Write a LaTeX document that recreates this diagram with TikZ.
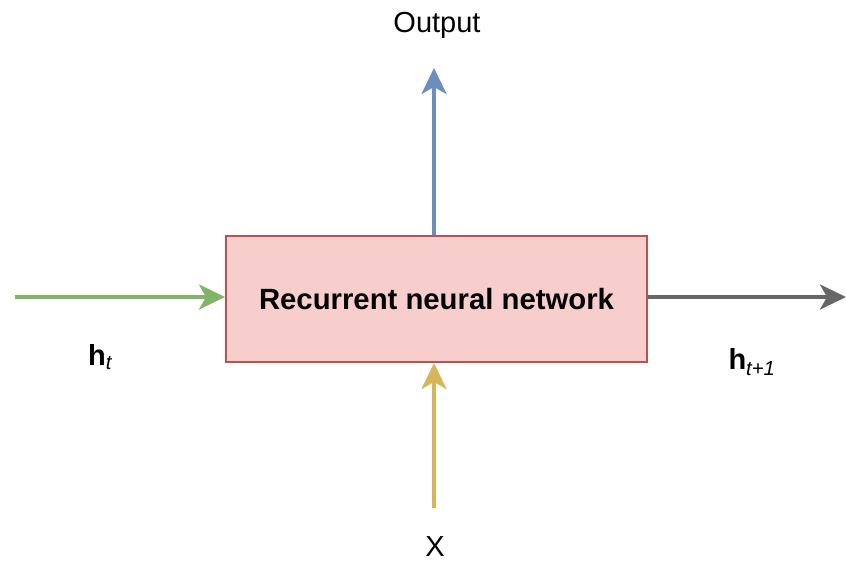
\documentclass[tikz,border=0pt]{standalone}
\usepackage{fontspec}
\setmainfont{Liberation Sans}
\usetikzlibrary{arrows.meta}
\definecolor{boxfill}{HTML}{F8CECC}
\definecolor{boxdraw}{HTML}{B85450}
\definecolor{cblue}{HTML}{6C8EBF}
\definecolor{cgreen}{HTML}{82B366}
\definecolor{cyellow}{HTML}{D6B656}
\definecolor{cgray}{HTML}{666666}
\tikzset{
  conn/.style={line width=3.5pt,-{Stealth[length=26pt,width=25pt,inset=7pt]}},
  lbl/.style={font=\fontsize{29}{33}\selectfont, inner sep=0pt},
}
\begin{document}
\begin{tikzpicture}[x=1pt,y=-1pt]
\useasboundingbox (0,0) rectangle (846,563);
\node[draw=boxdraw, fill=boxfill, line width=2pt, minimum width=421pt, minimum height=126pt, anchor=north west, inner sep=0pt,
  font=\fontsize{29.3}{34}\selectfont\bfseries] (rnn) at (225,235) {Recurrent neural network};
\node[lbl] (out) at (437,25) {Output};
\node[lbl] (x) at (435,547) {X};
\node[lbl] (ht) at (100,357) {\textbf{h}\textsubscript{\itshape t}};
\node[lbl] (ht1) at (752,362) {\textbf{h}\textsubscript{\itshape t+1}};
\coordinate (gin) at (15,297);
\coordinate (gout) at (846,297);
\coordinate (otip) at (434,68);
\coordinate (xbot) at (434,508);
\draw[conn, cgreen] (gin) -- (rnn.west |- gin);
\draw[conn, cgray] (rnn.east |- gout) -- (gout);
\draw[conn, cblue] (rnn.north -| otip) -- (otip);
\draw[conn, cyellow] (xbot) -- (rnn.south -| xbot);
\end{tikzpicture}
\end{document}
